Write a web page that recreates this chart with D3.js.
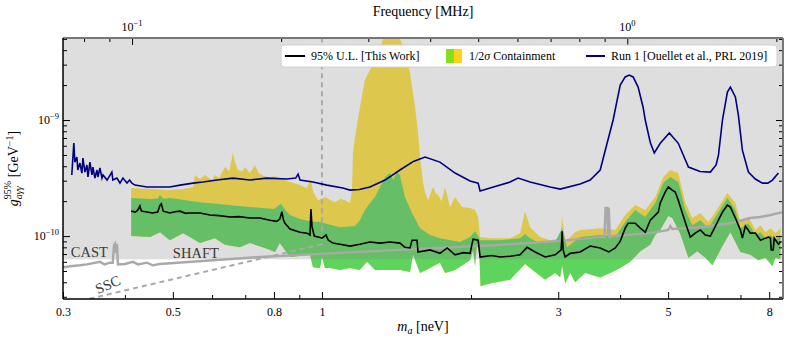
<!DOCTYPE html>
<html>
<head>
<meta charset="utf-8">
<script src="https://cdn.jsdelivr.net/npm/d3@7"></script>
<style>
  body { margin: 0; background: #fff; }
  svg { display: block; font-family: "Liberation Serif", "DejaVu Serif", serif; }
</style>
</head>
<body>
<div id="chart"></div>
<script>
// masses in neV, couplings in units of 1e-10 GeV^-1
const gUnit = 1e-10;
const mhzPerNeV = 0.2418;

const massRange = [0.3, 8.53];
const gRange = [0.287, 50.9];
const excludedLevel = 0.63;   // grey shaded region starts here

const xMajorTicks = [0.3, 0.5, 0.8, 1, 3, 5, 8];
const xMinorTicks = [0.4, 0.6, 0.7, 0.9, 2, 4, 6, 7];
const yMajorTicks = [1e-10, 1e-9];
const yMinorTicks = [3e-11, 4e-11, 5e-11, 6e-11, 7e-11, 8e-11, 9e-11,
    2e-10, 3e-10, 4e-10, 5e-10, 6e-10, 7e-10, 8e-10, 9e-10, 2e-9, 3e-9, 4e-9, 5e-9];
const freqMajorTicks = [0.1, 1];
const freqMinorTicks = [0.08, 0.09, 0.2, 0.3, 0.4, 0.5, 0.6, 0.7, 0.8, 0.9, 2];

// Run 1 [Ouellet et al., PRL 2019]
const run1 = [[0.3125,3.36],[0.3155,6.33],[0.317,4.34],[0.320,4.80],[0.3214,3.71],[0.3245,4.26],[0.3275,3.49],
    [0.3291,4.70],[0.3322,3.56],[0.3353,4.09],[0.3369,3.23],[0.340,4.34],[0.3432,3.36],[0.3448,3.93],[0.348,3.16],
    [0.3513,3.71],[0.3529,3.23],[0.3562,3.86],[0.3596,3.16],[0.3613,3.36],[0.3682,3.04],[0.3765,3.56],[0.3783,3.04],
    [0.3855,3.16],[0.391,2.86],[0.3964,3.16],[0.4039,2.86],[0.409,3.04],[0.4133,2.86],[0.4191,2.75],[0.4433,2.65],
    [0.471,2.65],[0.493,2.65],[0.517,2.75],[0.549,2.86],[0.575,2.92],[0.614,3.04],[0.661,3.16],[0.715,3.04],
    [0.774,3.16],[0.85,3.10],[0.885,3.16],[0.895,3.42],[0.903,3.04],[0.959,2.92],[1.023,2.75],[1.102,2.60],
    [1.139,2.49],[1.19,2.52],[1.25,2.65],[1.341,3.04],[1.437,3.71],[1.53,4.4],[1.615,4.80],[1.731,4.34],
    [1.857,3.49],[1.991,2.98],[2.067,2.86],[2.086,2.45],[2.185,2.60],[2.398,2.92],[2.489,3.16],[2.632,2.92],
    [2.889,2.65],[3.027,2.54],[3.322,2.81],[3.480,3.04],[3.646,3.71],[3.757,6.1],[3.872,10.0],[3.946,14.9],
    [4.002,20.0],[4.096,23.5],[4.173,24.4],[4.250,23.5],[4.349,19.2],[4.451,12.9],[4.496,10.0],[4.602,6.4],
    [4.689,5.2],[4.821,6.3],[5.028,7.72],[5.242,6.3],[5.495,3.93],[5.8,3.6],[6.085,3.56],[6.25,4.1],[6.32,5.0],
    [6.437,10.0],[6.587,17.4],[6.679,19.2],[6.836,15.8],[6.932,11.0],[7.062,5.5],[7.262,3.56],[7.5,3.1],
    [7.752,2.86],[7.95,2.86],[8.12,3.04],[8.351,3.49]];

// 95% U.L. [This Work]
const upperLimit = [[0.412,1.64],[0.42,1.61],[0.425,1.68],[0.429,1.82],[0.432,1.64],[0.443,1.61],[0.455,1.58],
    [0.466,1.61],[0.471,1.85],[0.474,1.90],[0.478,1.64],[0.493,1.58],[0.505,1.62],[0.517,1.64],[0.53,1.57],
    [0.541,1.58],[0.567,1.58],[0.594,1.52],[0.62,1.50],[0.652,1.46],[0.68,1.47],[0.715,1.43],[0.749,1.43],
    [0.785,1.37],[0.81,1.34],[0.822,1.40],[0.830,1.62],[0.836,1.38],[0.842,1.29],[0.862,1.15],[0.903,1.08],
    [0.933,1.06],[0.946,1.02],[0.950,1.71],[0.955,1.20],[0.965,1.0],[0.982,0.98],[1.000,0.96],[1.019,1.02],
    [1.03,0.92],[1.052,0.87],[1.087,0.85],[1.139,0.82],[1.193,0.85],[1.25,0.89],[1.31,0.87],[1.372,0.89],
    [1.437,0.87],[1.471,0.80],[1.506,0.79],[1.52,0.92],[1.556,0.92],[1.563,0.73],[1.653,0.76],[1.731,0.71],
    [1.79,0.79],[1.857,0.69],[1.93,0.72],[1.991,0.71],[2.019,0.94],[2.067,0.92],[2.086,0.66],[2.2,0.68],
    [2.289,0.66],[2.4,0.67],[2.512,0.69],[2.595,0.80],[2.694,0.73],[2.823,0.66],[2.957,0.69],[3.041,0.76],
    [3.055,1.10],[3.069,0.76],[3.098,0.66],[3.171,0.71],[3.322,0.73],[3.480,0.82],[3.646,0.79],[3.795,0.73],
    [3.911,0.79],[4.0,0.9],[4.096,1.17],[4.153,1.29],[4.291,1.29],[4.393,1.17],[4.496,1.08],[4.602,1.37],
    [4.777,1.61],[4.821,1.93],[4.935,2.40],[5.005,2.65],[5.095,2.49],[5.169,2.40],[5.242,2.04],[5.341,1.58],
    [5.44,1.24],[5.544,0.98],[5.67,1.06],[5.808,1.13],[5.944,1.02],[6.085,1.00],[6.23,1.22],[6.437,1.61],
    [6.587,1.85],[6.679,1.78],[6.836,1.43],[6.997,1.13],[7.062,0.96],[7.161,1.22],[7.33,1.06],[7.502,1.06],
    [7.68,0.92],[7.861,0.96],[7.972,0.98],[8.046,0.96],[8.075,0.76],[8.15,0.76],[8.19,0.96],[8.351,0.85],[8.429,0.89]];

// 2 sigma upper edge of the containment band
const twoSigmaTop = [[0.412,2.60],[0.45,2.54],[0.49,2.49],[0.524,2.54],[0.549,2.65],[0.554,3.36],[0.567,3.10],
    [0.58,3.36],[0.60,3.04],[0.608,3.36],[0.62,3.16],[0.637,3.93],[0.65,3.6],[0.661,5.19],[0.668,4.3],[0.676,3.71],
    [0.69,3.6],[0.699,3.93],[0.715,3.49],[0.725,3.8],[0.732,4.09],[0.745,3.5],[0.756,3.36],[0.785,3.16],[0.80,3.3],
    [0.842,3.04],[0.87,2.9],[0.903,2.75],[0.93,2.6],[0.950,3.04],[0.96,2.4],[0.982,2.04],[1.0,2.10],[1.014,2.17],
    [1.04,2.05],[1.062,1.96],[1.09,2.1],[1.113,2.04],[1.139,1.93],[1.150,2.49],[1.155,5.19],[1.166,7.13],
    [1.193,12.9],[1.221,22.1],[1.25,27.0],[1.28,32.9],[1.31,42],[1.341,55],[1.41,58],[1.437,50],[1.471,40.1],
    [1.506,25.4],[1.542,12.9],[1.563,7.72],[1.578,4.80],[1.60,2.9],[1.615,2.40],[1.638,2.04],[1.676,2.65],
    [1.70,2.3],[1.715,2.26],[1.745,2.0],[1.773,2.65],[1.814,1.78],[1.857,2.17],[1.918,1.78],[1.991,1.75],
    [2.038,1.68],[2.067,1.46],[2.086,0.98],[2.185,0.96],[2.398,0.96],[2.512,1.06],[2.571,1.64],[2.632,1.19],
    [2.758,0.98],[2.889,0.92],[3.027,0.96],[3.055,1.46],[3.098,0.89],[3.245,1.08],[3.322,1.13],[3.646,1.17],
    [3.911,1.13],[4.096,1.52],[4.291,1.85],[4.496,1.68],[4.71,2.17],[4.889,3.23],[5.051,3.71],[5.242,3.49],
    [5.417,1.93],[5.596,1.43],[5.808,1.58],[6.028,1.32],[6.23,1.61],[6.587,2.35],[6.836,1.93],[6.997,1.32],
    [7.262,1.46],[7.502,1.13],[7.68,1.24],[7.861,1.08],[8.046,1.17],[8.236,1.06],[8.429,1.17]];

// 1 sigma upper edge
const oneSigmaTop = [[0.412,2.13],[0.45,2.09],[0.466,2.11],[0.471,2.26],[0.478,2.10],[0.493,2.13],[0.567,1.96],
    [0.715,1.78],[0.80,1.71],[0.826,1.90],[0.85,1.61],[0.862,1.52],[0.903,1.40],[0.946,1.34],[0.991,1.32],
    [1.087,1.19],[1.166,1.22],[1.193,1.37],[1.221,1.68],[1.25,1.93],[1.28,2.17],[1.341,3.23],[1.372,3.49],
    [1.392,3.04],[1.417,3.56],[1.437,3.36],[1.471,2.17],[1.520,1.58],[1.578,1.17],[1.653,1.02],[1.731,0.96],
    [1.90,0.89],[1.991,0.98],[2.038,1.10],[2.067,1.00],[2.086,0.92],[2.289,0.92],[2.512,0.96],[2.571,1.04],
    [2.632,0.96],[2.758,0.87],[2.957,0.89],[3.055,1.17],[3.127,0.80],[3.322,0.98],[3.646,1.02],[3.911,0.98],
    [4.096,1.32],[4.291,1.68],[4.496,1.46],[4.71,1.93],[4.889,2.86],[5.051,3.23],[5.242,2.92],[5.417,1.68],
    [5.596,1.24],[5.808,1.37],[6.028,1.17],[6.23,1.46],[6.587,2.13],[6.836,1.68],[6.997,1.17],[7.262,1.29],
    [7.502,1.02],[7.68,1.08],[7.861,0.96],[8.046,1.02],[8.236,0.92],[8.429,1.02]];

// lower edge shared by both bands
const bandBottom = [[0.412,1.00],[0.45,0.98],[0.471,1.08],[0.493,0.92],[0.524,1.06],[0.541,0.98],[0.567,0.87],
    [0.608,0.96],[0.637,0.84],[0.683,0.80],[0.715,0.87],[0.767,0.79],[0.804,0.73],[0.822,0.87],[0.862,0.66],
    [0.946,0.69],[0.959,0.54],[0.991,0.53],[1.0,0.66],[1.014,0.53],[1.038,0.53],[1.087,0.51],[1.139,0.53],
    [1.193,0.51],[1.233,0.60],[1.28,0.51],[1.437,0.51],[1.506,0.49],[1.527,0.69],[1.578,0.48],[1.653,0.53],
    [1.731,0.59],[1.773,0.48],[1.857,0.51],[1.991,0.62],[2.019,0.76],[2.038,0.55],[2.057,0.87],[2.076,0.80],
    [2.09,0.37],[2.185,0.39],[2.398,0.42],[2.571,0.575],[2.694,0.49],[2.823,0.42],[2.957,0.48],[3.027,0.44],
    [3.055,0.56],[3.098,0.39],[3.171,0.48],[3.245,0.40],[3.40,0.48],[3.646,0.44],[3.82,0.48],[4.002,0.53],
    [4.193,0.60],[4.393,0.74],[4.602,0.84],[4.71,1.02],[4.821,1.13],[5.005,1.49],[5.098,1.43],[5.292,1.04],
    [5.495,0.65],[5.727,0.74],[5.944,0.65],[6.142,0.56],[6.437,0.82],[6.679,1.08],[6.997,0.73],[7.33,0.69],
    [7.608,0.62],[7.861,0.65],[8.121,0.55],[8.236,0.65],[8.429,0.63]];

// CAST / SHAFT limit
const castShaft = [[0.3,0.55],[0.3025,0.54],[0.31,0.55],[0.3245,0.56],[0.335,0.57],[0.3562,0.60],[0.364,0.57],
    [0.373,0.59],[0.378,0.59],[0.3804,0.84],[0.382,0.86],[0.3837,0.72],[0.3855,0.86],[0.3873,0.57],[0.400,0.575],
    [0.4153,0.60],[0.425,0.57],[0.4433,0.59],[0.4555,0.56],[0.47,0.575],[0.749,0.66],[1.038,0.71],[1.437,0.76],
    [2.289,0.84],[3.027,0.91],[3.646,0.98],[3.72,0.98],[3.738,1.75],[3.77,1.75],[3.78,1.0],[3.795,1.75],
    [3.813,0.98],[3.855,1.0],[4.602,1.06],[5.005,1.13],[5.051,1.22],[5.098,1.15],[5.808,1.19],[6.679,1.29],
    [7.33,1.43],[7.68,1.46],[8.046,1.52],[8.53,1.61]];

// SSC limit
const sscLine = [[0.3,0.255],[1,0.85],[1,60]];

const annotations = [
    { text: "CAST", m: 0.311, g: 0.66, angle: 0, anchor: "start" },
    { text: "SHAFT", m: 0.5, g: 0.65, angle: 0, anchor: "start" },
    { text: "SSC", m: 0.373, g: 0.35, angle: -24, anchor: "middle" }
];

document.addEventListener("DOMContentLoaded", function () {
    const width = 789, height = 342;
    const margin = { left: 63, top: 38, right: 6, bottom: 43 };
    const x0 = margin.left, x1 = width - margin.right;
    const y0 = height - margin.bottom, y1 = margin.top;

    const x = d3.scaleLog().domain(massRange).range([x0, x1]);
    const y = d3.scaleLog().domain(gRange.map(v => v * gUnit)).range([y0, y1]);
    const f = d3.scaleLog().domain(massRange.map(m => m * mhzPerNeV)).range([x0, x1]);

    const svg = d3.select("#chart").append("svg")
        .attr("width", width)
        .attr("height", height);

    svg.append("clipPath").attr("id", "plot-clip")
        .append("rect").attr("x", x0).attr("y", y1).attr("width", x1 - x0).attr("height", y0 - y1);

    const plot = svg.append("g").attr("clip-path", "url(#plot-clip)");

    const line = d3.line().x(d => x(d[0])).y(d => y(d[1] * gUnit));

    function bandPath(top, bottom) {
        return line(top.concat(bottom.slice().reverse())) + "Z";
    }

    // containment bands
    plot.append("path").attr("d", bandPath(twoSigmaTop, bandBottom)).attr("fill", "#ffe13c");
    plot.append("path").attr("d", bandPath(oneSigmaTop, bandBottom)).attr("fill", "#5dd55d");

    // shaded excluded region, drawn over the bands
    plot.append("rect")
        .attr("x", x0).attr("width", x1 - x0)
        .attr("y", y1).attr("height", y(excludedLevel * gUnit) - y1)
        .attr("fill", "#808080").attr("fill-opacity", 0.26);

    plot.append("path").datum(castShaft).attr("d", line)
        .attr("fill", "none").attr("stroke", "#a9a9a9").attr("stroke-width", 2.4);

    plot.append("path").datum(sscLine).attr("d", line)
        .attr("fill", "none").attr("stroke", "#a9a9a9").attr("stroke-width", 2)
        .attr("stroke-dasharray", "5,4");

    plot.append("path").datum(run1).attr("d", line)
        .attr("fill", "none").attr("stroke", "#000080").attr("stroke-width", 1.6);

    plot.append("path").datum(upperLimit).attr("d", line)
        .attr("fill", "none").attr("stroke", "#000").attr("stroke-width", 1.6);

    // annotations
    annotations.forEach(a => {
        svg.append("text")
            .attr("transform", `translate(${x(a.m)},${y(a.g * gUnit)}) rotate(${a.angle})`)
            .attr("text-anchor", a.anchor)
            .attr("font-size", 14.5)
            .attr("fill", "#3a3a3a")
            .text(a.text);
    });

    // ticks, all pointing inwards
    function styleAxis(g) {
        g.select(".domain").remove();
        g.selectAll(".tick line").attr("stroke", "#000").attr("stroke-width", 1);
        g.attr("font-family", null).attr("font-size", 12);
    }
    svg.append("g").attr("transform", `translate(0,${y0})`)
        .call(d3.axisBottom(x).tickValues(xMajorTicks).tickSize(-7).tickPadding(8).tickFormat(d => String(d)))
        .call(styleAxis);
    svg.append("g").attr("transform", `translate(0,${y0})`)
        .call(d3.axisBottom(x).tickValues(xMinorTicks).tickSize(-4).tickFormat(""))
        .call(styleAxis);
    svg.append("g").attr("transform", `translate(0,${y1})`)
        .call(d3.axisTop(f).tickValues(freqMajorTicks).tickSize(-7).tickFormat(""))
        .call(styleAxis);
    svg.append("g").attr("transform", `translate(0,${y1})`)
        .call(d3.axisTop(f).tickValues(freqMinorTicks).tickSize(-4).tickFormat(""))
        .call(styleAxis);
    [[d3.axisLeft, x0], [d3.axisRight, x1]].forEach(([axis, pos]) => {
        svg.append("g").attr("transform", `translate(${pos},0)`)
            .call(axis(y).tickValues(yMajorTicks).tickSize(-7).tickFormat(""))
            .call(styleAxis);
        svg.append("g").attr("transform", `translate(${pos},0)`)
            .call(axis(y).tickValues(yMinorTicks).tickSize(-4).tickFormat(""))
            .call(styleAxis);
    });

    // power-of-ten labels
    function powerLabel(sel, v) {
        const e = Math.round(Math.log10(v));
        sel.append("tspan").text("10");
        sel.append("tspan").attr("dy", -5).attr("font-size", 8.5).text(e < 0 ? "\u2212" + (-e) : String(e));
    }
    yMajorTicks.forEach(v => {
        const t = svg.append("text").attr("x", x0 - 4).attr("y", y(v) + 4)
            .attr("text-anchor", "end").attr("font-size", 12);
        powerLabel(t, v);
    });
    freqMajorTicks.forEach(v => {
        const t = svg.append("text").attr("x", f(v)).attr("y", 31)
            .attr("text-anchor", "middle").attr("font-size", 12);
        powerLabel(t, v);
    });

    // spines
    svg.append("line").attr("x1", x0).attr("x2", x1).attr("y1", y1).attr("y2", y1)
        .attr("stroke", "#777").attr("stroke-width", 2);
    svg.append("line").attr("x1", x1).attr("x2", x1).attr("y1", y1).attr("y2", y0)
        .attr("stroke", "#777").attr("stroke-width", 2);
    svg.append("line").attr("x1", x0).attr("x2", x0).attr("y1", y1).attr("y2", y0)
        .attr("stroke", "#000").attr("stroke-width", 1.5);
    svg.append("line").attr("x1", x0).attr("x2", x1).attr("y1", y0).attr("y2", y0)
        .attr("stroke", "#000").attr("stroke-width", 1.5);

    // axis titles
    const cx = (x0 + x1) / 2;
    svg.append("text").attr("x", cx).attr("y", 16).attr("text-anchor", "middle")
        .attr("font-size", 14).text("Frequency [MHz]");

    const xt = svg.append("text").attr("x", cx).attr("y", 331).attr("text-anchor", "middle").attr("font-size", 14);
    xt.append("tspan").attr("font-style", "italic").text("m");
    xt.append("tspan").attr("font-style", "italic").attr("font-size", 10).attr("dy", 3).text("a");
    xt.append("tspan").attr("dy", -3).text(" [neV]");

    // measure the superscript so the subscript can sit under it
    const probe = svg.append("text").attr("font-size", 10).text("95%");
    const supW = probe.node().getComputedTextLength();
    probe.text("a\u03b3\u03b3").attr("font-style", "italic");
    const subW = probe.node().getComputedTextLength();
    probe.remove();

    const yt = svg.append("text")
        .attr("transform", `translate(18,${(y0 + y1) / 2}) rotate(-90)`)
        .attr("text-anchor", "middle").attr("font-size", 14);
    yt.append("tspan").attr("font-style", "italic").text("g");
    yt.append("tspan").attr("font-size", 10).attr("dy", -7).text("95%");
    yt.append("tspan").attr("font-size", 10).attr("font-style", "italic")
        .attr("dx", -supW).attr("dy", 11).text("a\u03b3\u03b3");
    yt.append("tspan").attr("dx", Math.max(0, supW - subW)).attr("dy", -4).text(" [GeV");
    yt.append("tspan").attr("font-size", 10).attr("dy", -5).text("\u22121");
    yt.append("tspan").attr("dy", 5).text("]");

    // legend
    const legend = svg.append("g").attr("font-size", 12);
    legend.append("rect").attr("x", 281).attr("y", 45).attr("width", 496).attr("height", 22)
        .attr("rx", 3).attr("fill", "#fff").attr("stroke", "#d0d0d0");
    legend.append("line").attr("x1", 285).attr("x2", 305).attr("y1", 56).attr("y2", 56)
        .attr("stroke", "#000").attr("stroke-width", 2);
    legend.append("text").attr("x", 311).attr("y", 60).text("95% U.L. [This Work]");
    legend.append("rect").attr("x", 446).attr("y", 49).attr("width", 8).attr("height", 14).attr("fill", "#84e01c");
    legend.append("rect").attr("x", 454).attr("y", 49).attr("width", 8).attr("height", 14).attr("fill", "#ffd21f");
    const ct = legend.append("text").attr("x", 469).attr("y", 60);
    ct.append("tspan").text("1/2");
    ct.append("tspan").attr("font-style", "italic").text("\u03c3");
    ct.append("tspan").text(" Containment");
    legend.append("line").attr("x1", 586).attr("x2", 605).attr("y1", 56).attr("y2", 56)
        .attr("stroke", "#000080").attr("stroke-width", 2);
    legend.append("text").attr("x", 611).attr("y", 60).text("Run 1 [Ouellet et al., PRL 2019]");
});
</script>
</body>
</html>
